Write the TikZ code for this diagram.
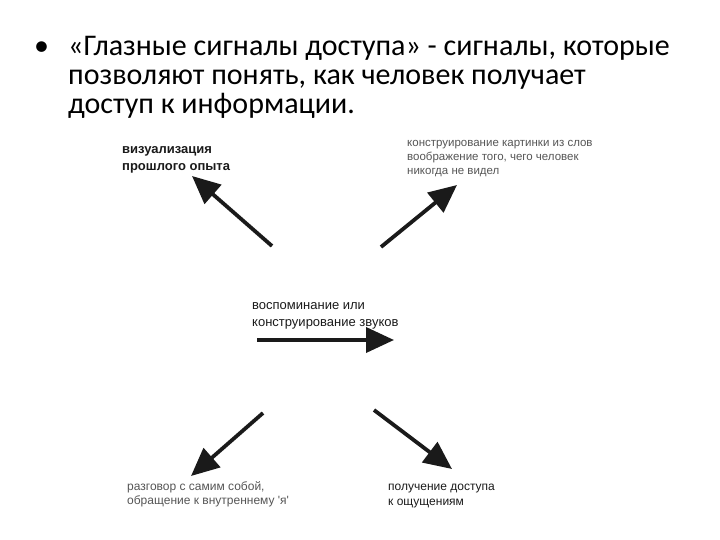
\documentclass[tikz,border=0pt]{standalone}
\usepackage{fontspec}
\setmainfont{Carlito}
\newfontfamily\labelfont{Liberation Sans}
\usetikzlibrary{arrows.meta}
\definecolor{labelgray}{HTML}{555555}
\definecolor{labeldark}{HTML}{1A1A1A}

\tikzset{
  eyearrow/.style={line width=3.8pt, draw=labeldark,
    -{Triangle[length=28pt, width=25pt]}},
  cue/.style={anchor=north west, inner sep=0pt, align=left,
    font=\labelfont\fontsize{12}{14.5}\selectfont, text=labeldark},
  faint/.style={cue, text=labelgray}
}

\begin{document}
\begin{tikzpicture}[x=1pt, y=-1pt]
  \useasboundingbox (0,0) rectangle (720,540);

  % heading
  \node[anchor=north west, inner sep=0pt, align=left,
    font=\fontsize{30}{29}\selectfont] (title) at (34,36)
    {\makebox[34pt][l]{\textbullet}«Глазные сигналы доступа» - сигналы, которые\\
     \hspace*{34pt}позволяют понять, как человек получает\\
     \hspace*{34pt}доступ к информации.};

  % labels
  \node[cue, font=\labelfont\bfseries\fontsize{13}{17}\selectfont] (visual) at (122,146)
    {визуализация\\прошлого опыта};
  \node[faint, font=\labelfont\fontsize{11.5}{14}\selectfont] (construct) at (407,140)
    {конструирование картинки из слов\\воображение того, чего человек\\никогда не видел};
  \node[cue, font=\labelfont\fontsize{13}{17}\selectfont] (sound) at (252,302)
    {воспоминание или\\конструирование звуков};
  \node[faint] (dialog) at (127,481)
    {разговор с самим собой,\\обращение к внутреннему 'я'};
  \node[cue] (feel) at (388,484)
    {получение доступа\\к ощущениям};

  % arrow ends
  \coordinate (tl0) at (272,246);
  \coordinate (tl1) at (192,176);
  \coordinate (tr0) at (381,247);
  \coordinate (tr1) at (457,185);
  \coordinate (mid0) at (257,340);
  \coordinate (mid1) at (394,340);
  \coordinate (bl0) at (263,413);
  \coordinate (bl1) at (191,476);
  \coordinate (br0) at (374,410);
  \coordinate (br1) at (452,469);

  \draw[eyearrow] (tl0) -- (tl1);
  \draw[eyearrow] (tr0) -- (tr1);
  \draw[eyearrow] (mid0) -- (mid1);
  \draw[eyearrow] (bl0) -- (bl1);
  \draw[eyearrow] (br0) -- (br1);
\end{tikzpicture}
\end{document}
